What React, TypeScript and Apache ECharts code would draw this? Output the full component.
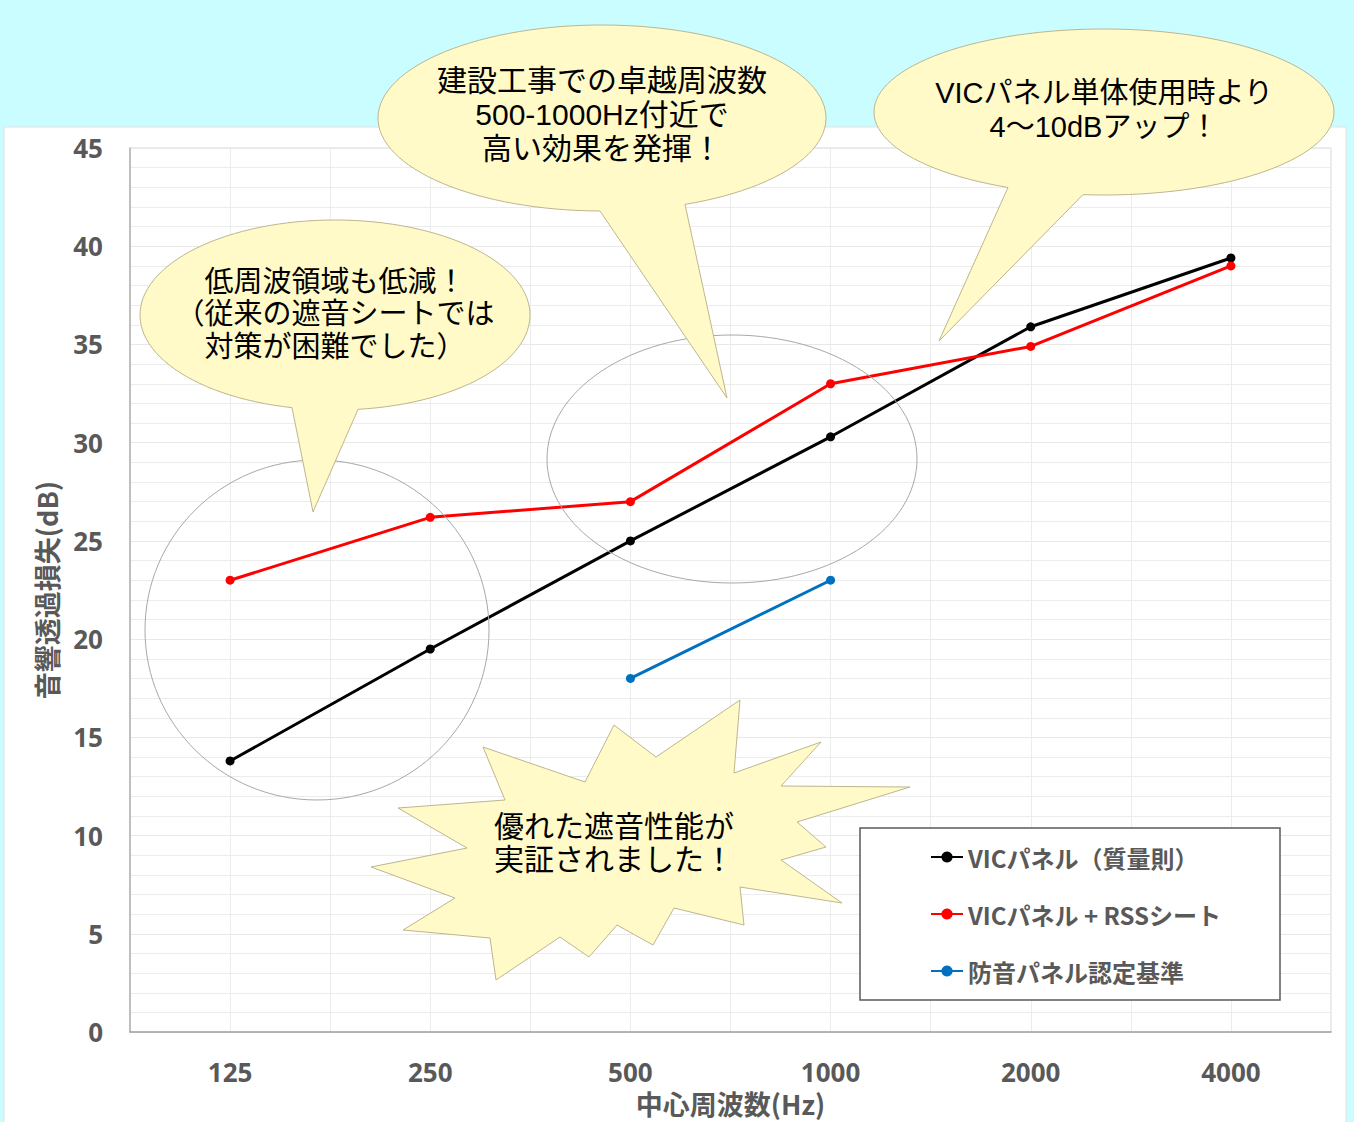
import React, { useEffect, useRef } from "react";
import * as echarts from "echarts";

// ---- data ----
const categories = ["125", "250", "500", "1000", "2000", "4000"];
const vicMassLaw = [13.8, 19.5, 25.0, 30.3, 35.9, 39.4];
const vicRss = [23.0, 26.2, 27.0, 33.0, 34.9, 39.0];
const soundproofStandard = [null, null, 18.0, 23.0, null, null];
const seriesNames = ["VICパネル（質量則）", "VICパネル + RSSシート", "防音パネル認定基準"];
const seriesColors = ["#000000", "#ff0000", "#0070c0"];
const yMin = 0;
const yMax = 45;
const yInterval = 5;
const xAxisTitle = "中心周波数(Hz)";
const yAxisTitle = "音響透過損失(dB)";
const leftBubbleLines = ["低周波領域も低減！", "（従来の遮音シートでは", "対策が困難でした）"];
const middleBubbleLines = ["建設工事での卓越周波数", "500-1000Hz付近で", "高い効果を発揮！"];
const rightBubbleLines = ["VICパネル単体使用時より", "4～10dBアップ！"];
const burstLines = ["優れた遮音性能が", "実証されました！"];

const CJK = "'Noto Sans CJK JP', 'Noto Sans', sans-serif";
const BUBBLE_FONT = "'Liberation Sans', 'Noto Sans CJK JP', sans-serif";
const AXIS_FONT = "'Noto Sans', 'Noto Sans CJK JP', sans-serif";
const BUBBLE_FILL = "#fffac8";
const BUBBLE_STROKE = "#bdb68e";

function bubblePoints(
  cx: number, cy: number, rx: number, ry: number,
  baseLeftX: number, baseRightX: number, tip: [number, number]
): number[][] {
  const tL = Math.acos((baseLeftX - cx) / rx);
  const tR = Math.acos((baseRightX - cx) / rx) + Math.PI * 2;
  const pts: number[][] = [];
  const n = 120;
  for (let i = 0; i <= n; i++) {
    const t = tL + ((tR - tL) * i) / n;
    pts.push([cx + rx * Math.cos(t), cy + ry * Math.sin(t)]);
  }
  pts.push(tip);
  return pts;
}

const burstShape: number[][] = [
  [740, 700], [734, 773], [821, 742], [781, 786], [910, 787], [797, 822],
  [826, 847], [781, 860], [842, 903], [740, 887], [744, 925], [674, 908],
  [653, 945], [617, 925], [589, 957], [560, 937], [496, 980], [490, 938],
  [403, 930], [455, 898], [371, 867], [467, 848], [398, 808], [505, 800],
  [483, 747], [585, 782], [614, 725], [656, 757],
];

function textBlock(lines: string[], cx: number, cy: number, size: number, lh: number, z: number) {
  return {
    type: "text",
    z,
    x: cx,
    y: cy,
    style: {
      text: lines.join("\n"),
      fill: "#000000",
      font: `${size}px ${BUBBLE_FONT}`,
      lineHeight: lh,
      align: "center",
      verticalAlign: "middle",
    },
  };
}

export default function App() {
  const ref = useRef<HTMLDivElement>(null);

  useEffect(() => {
    document.body.style.margin = "0";
    document.body.style.overflow = "hidden";
    if (!ref.current) return;
    const chart = echarts.init(ref.current, undefined, { renderer: "svg" });

    const lineSeries = [vicMassLaw, vicRss, soundproofStandard].map((d, i) => ({
      name: seriesNames[i],
      type: "line",
      data: d,
      xAxisIndex: 0,
      yAxisIndex: 0,
      symbol: "circle",
      symbolSize: 9,
      connectNulls: false,
      z: 5,
      lineStyle: { color: seriesColors[i], width: 3 },
      itemStyle: { color: seriesColors[i] },
    }));

    const graphics: any[] = [
      {
        type: "rect",
        z: -1,
        shape: { x: 4, y: 127, width: 1342, height: 1000 },
        style: { fill: "#ffffff", stroke: "#e2e2e2", lineWidth: 1 },
      },
      // thin highlight circles
      {
        type: "ellipse",
        z: 6,
        shape: { cx: 317, cy: 630, rx: 172, ry: 170 },
        style: { fill: "none", stroke: "#a8a8a8", lineWidth: 1 },
      },
      {
        type: "ellipse",
        z: 6,
        shape: { cx: 732, cy: 459, rx: 185, ry: 124 },
        style: { fill: "none", stroke: "#a8a8a8", lineWidth: 1 },
      },
      // speech bubbles
      {
        type: "polygon",
        z: 10,
        shape: { points: bubblePoints(335, 315, 195, 95, 292, 358, [313, 512]) },
        style: { fill: BUBBLE_FILL, stroke: BUBBLE_STROKE, lineWidth: 1 },
      },
      {
        type: "polygon",
        z: 10,
        shape: { points: bubblePoints(602, 118, 224, 93, 600, 685, [727, 398]) },
        style: { fill: BUBBLE_FILL, stroke: BUBBLE_STROKE, lineWidth: 1 },
      },
      {
        type: "polygon",
        z: 10,
        shape: { points: bubblePoints(1104, 112, 230, 83, 1008, 1083, [939, 341]) },
        style: { fill: BUBBLE_FILL, stroke: BUBBLE_STROKE, lineWidth: 1 },
      },
      {
        type: "polygon",
        z: 10,
        shape: { points: burstShape },
        style: { fill: BUBBLE_FILL, stroke: BUBBLE_STROKE, lineWidth: 1 },
      },
      textBlock(leftBubbleLines, 335, 314, 29, 32.5, 11),
      textBlock(middleBubbleLines, 602, 114, 30, 34, 11),
      textBlock(rightBubbleLines, 1104, 110, 29, 34, 11),
      textBlock(burstLines, 614, 843, 30, 33, 11),
      // legend box
      {
        type: "rect",
        z: 7,
        shape: { x: 860, y: 828, width: 420, height: 172 },
        style: { fill: "#ffffff", stroke: "#595959", lineWidth: 1.5 },
      },
    ];

    const option: any = {
      animation: false,
      backgroundColor: "#c9fdff",
      grid: {
        left: 130,
        top: 148,
        right: 23,
        bottom: 88,
        show: true,
        borderColor: "#d9d9d9",
        borderWidth: 1,
        backgroundColor: "transparent",
      },
      legend: {
        show: true,
        orient: "vertical",
        left: 930,
        top: 845,
        itemGap: 33,
        itemWidth: 32,
        itemHeight: 14,
        padding: 0,
        z: 8,
        textStyle: {
          fontSize: 24,
          fontWeight: "bold",
          color: "#595959",
          fontFamily: CJK,
          lineHeight: 24,
        },
        data: seriesNames,
      },
      xAxis: [
        {
          type: "category",
          data: categories,
          boundaryGap: true,
          axisLine: { lineStyle: { color: "#a0a0a0", width: 1.5 } },
          axisTick: { show: false },
          splitLine: { show: false },
          axisLabel: {
            margin: 27,
            fontSize: 26,
            fontWeight: "bold",
            color: "#595959",
            fontFamily: AXIS_FONT,
          },
          name: xAxisTitle,
          nameLocation: "middle",
          nameGap: 56,
          nameTextStyle: {
            fontSize: 27,
            fontWeight: "bold",
            color: "#595959",
            fontFamily: CJK,
          },
        },
        {
          type: "category",
          data: Array.from({ length: categories.length * 2 }, () => ""),
          boundaryGap: true,
          position: "bottom",
          axisLine: { show: false },
          axisTick: { show: false },
          axisLabel: { show: false },
          splitLine: { show: true, interval: 0, lineStyle: { color: "#ececec", width: 1 } },
        },
      ],
      yAxis: {
        type: "value",
        min: yMin,
        max: yMax,
        interval: yInterval,
        axisLine: { show: true, lineStyle: { color: "#b0b0b0", width: 1.5 } },
        axisTick: { show: false },
        axisLabel: {
          margin: 27,
          fontSize: 26,
          fontWeight: "bold",
          color: "#595959",
          fontFamily: AXIS_FONT,
        },
        splitLine: { show: true, lineStyle: { color: "#e8e8e8", width: 1.2 } },
        minorTick: { show: false, splitNumber: 5 },
        minorSplitLine: { show: true, lineStyle: { color: "#ececec", width: 1.2 } },
        name: yAxisTitle,
        nameLocation: "middle",
        nameGap: 70,
        nameTextStyle: {
          fontSize: 27,
          fontWeight: "bold",
          color: "#595959",
          fontFamily: CJK,
        },
      },
      series: lineSeries,
      graphic: { elements: graphics },
    };

    chart.setOption(option);
    return () => chart.dispose();
  }, []);

  return <div ref={ref} style={{ width: 1354, height: 1122 }} />;
}
